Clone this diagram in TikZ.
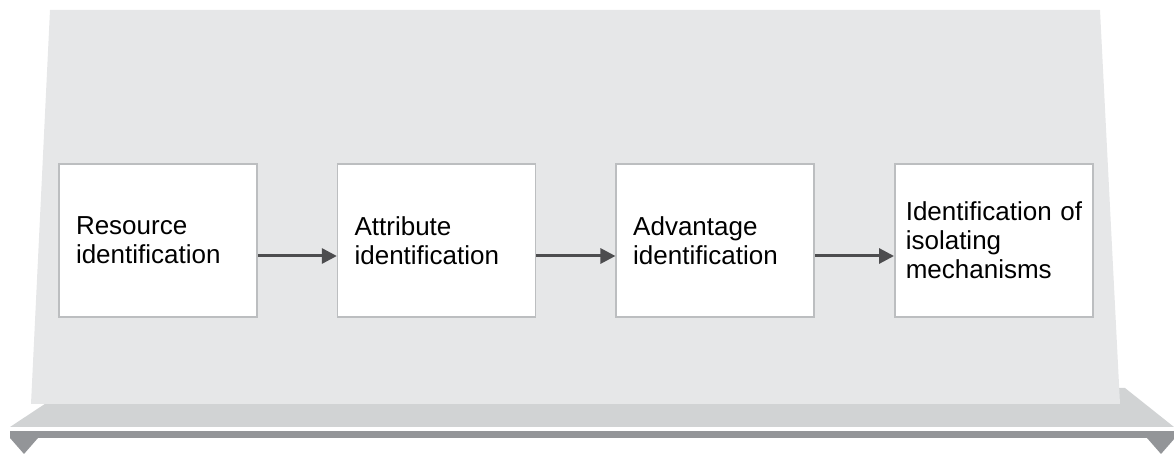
\documentclass[tikz,border=0pt]{standalone}
\usepackage{fontspec}
\setmainfont{Liberation Sans}
\usetikzlibrary{arrows.meta}
\definecolor{panelgray}{HTML}{E6E7E8}
\definecolor{shelfgray}{HTML}{D1D3D4}
\definecolor{bargray}{HTML}{939598}
\definecolor{boxline}{HTML}{BCBEC0}
\definecolor{arrowgray}{HTML}{4D4D4F}
\begin{document}
\begin{tikzpicture}[x=0.5pt,y=-0.5pt,
        stage/.style={rectangle,fill=white,draw=boxline,line width=0.75pt,minimum height=76.5pt,text width=82pt,inner xsep=8.5pt,align=left,font=\fontsize{13}{14.5}\selectfont,node distance=139.3pt},
        flow/.style={draw=arrowgray,line width=1.5pt,-{Triangle[length=7.5pt,width=7.5pt]}}]
            \useasboundingbox (0,0) rectangle (1174,454);
            \fill[shelfgray] (69,388) -- (1125,388) -- (1174,427) -- (10,427) -- cycle;
            \fill[panelgray] (50,10) -- (1100,10) -- (1120,404) -- (31,404) -- cycle;
            \fill[bargray] (10,431.5) rectangle (1174,438);
            \fill[bargray] (10,438) -- (38,438) -- (24,454) -- cycle;
            \fill[bargray] (1147,438) -- (1175,438) -- (1161,454) -- cycle;
            \node[stage] (1) at (158,240.5) {Resource\\identification};
            \node[stage,right of=1] (2) {Attribute\\identification};
            \node[stage,right of=2] (3) {Advantage\\identification};
            \node[stage,right of=3,text width=88pt,inner xsep=5.5pt] (4) {\mbox{Identification of}\\isolating\\mechanisms};
            \draw[flow] ([yshift=-7.75pt]1.east) -- ([yshift=-7.75pt]2.west);
            \draw[flow] ([yshift=-7.75pt]2.east) -- ([yshift=-7.75pt]3.west);
            \draw[flow] ([yshift=-7.75pt]3.east) -- ([yshift=-7.75pt]4.west);
        \end{tikzpicture}
\end{document}
